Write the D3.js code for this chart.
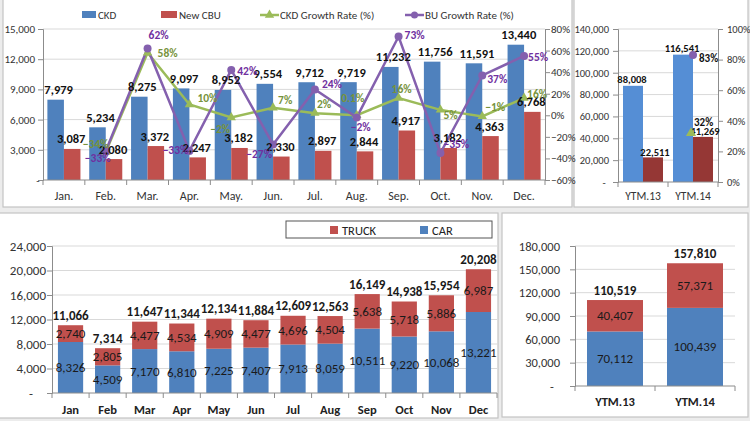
<!DOCTYPE html>
<html><head><meta charset="utf-8">
<script src="https://cdn.jsdelivr.net/npm/d3@7"></script>
<style>
html,body{margin:0;padding:0;background:#fff;}
svg{display:block;font-family:Carlito,Calibri,Lato,sans-serif;}
</style></head>
<body><svg id="c" width="750" height="421"></svg>
<script>
// ---------- DATA ----------
const months = ["Jan.","Feb.","Mar.","Apr.","May.","Jun.","Jul.","Aug.","Sep.","Oct.","Nov.","Dec."];
const ckd = [7979,5234,8275,9097,8952,9554,9712,9719,11232,11756,11591,13440];
const newCbu = [3087,2080,3372,2247,3182,2330,2897,2844,4917,3182,4363,6768];
const ckdGrowth = [null,-0.34,0.58,0.10,-0.02,0.07,0.02,0.001,0.16,0.05,-0.01,0.16];
const buGrowth = [null,-0.33,0.62,-0.33,0.42,-0.27,0.24,-0.02,0.73,-0.35,0.37,0.55];
const topLeftTicks = [0,3000,6000,9000,12000,15000];
const topRightPctTicks = [-0.6,-0.4,-0.2,0,0.2,0.4,0.6,0.8];

const ytdCats = ["YTM.13","YTM.14"];
const ytdCkd = [88008,116541];
const ytdCbu = [22511,41269];
const ytdCkdGrowth = [null,0.32];
const ytdBuGrowth = [null,0.83];
const ytdTicks = [0,20000,40000,60000,80000,100000,120000,140000];
const ytdPctTicks = [0,0.2,0.4,0.6,0.8,1.0];

const months2 = ["Jan","Feb","Mar","Apr","May","Jun","Jul","Aug","Sep","Oct","Nov","Dec"];
const car = [8326,4509,7170,6810,7225,7407,7913,8059,10511,9220,10068,13221];
const truck = [2740,2805,4477,4534,4909,4477,4696,4504,5638,5718,5886,6987];
const monthTicks2 = [0,4000,8000,12000,16000,20000,24000];

const ytdCar = [70112,100439];
const ytdTruck = [40407,57371];
const ytdTicks2 = [0,30000,60000,90000,120000,150000,180000];

// ---------- STYLE ----------
const BLUE="#4F81BD", RED="#C0504D", BLUE2="#558ED5", RED2="#953735";
const GREEN="#9BBB59", PURPLE="#8460AE", GREENTXT="#77933C", PURPLETXT="#7030A0";
const AXIS="#8c8c8c", GRID="#d9d9d9", TXT="#333";
const fmt = d3.format(",");
const pct = v => Math.abs(v) < 0.01 ? d3.format(".1%")(v) : d3.format(".0%")(v);

const svg = d3.select("#c");
svg.append("rect").attr("width",750).attr("height",421).attr("fill","#ececec");
// panels
[[3,-2,569,209],[574,-2,174,209],[-2,213,500,205],[502,213,246,204]].forEach(p=>{
  svg.append("rect").attr("x",p[0]).attr("y",p[1]).attr("width",p[2]).attr("height",p[3])
    .attr("fill","#fff").attr("stroke","#c4c4c4").attr("stroke-width",1.2);
});

function gridAndAxisLeft(g, y, ticks, x0, x1, fontSize, labelGap, dashDx){
  ticks.forEach(t=>{
    if(t!==ticks[0]) g.append("line").attr("x1",x0).attr("x2",x1).attr("y1",y(t)).attr("y2",y(t))
      .attr("stroke",GRID).attr("stroke-width",1);
  });
  const ax = g.append("g").attr("transform",`translate(${x0},0)`)
    .call(d3.axisLeft(y).tickValues(ticks).tickSize(5).tickFormat(d=>d===0?"":fmt(d)));
  ax.select(".domain").attr("stroke",AXIS);
  ax.selectAll(".tick line").attr("stroke",AXIS);
  ax.selectAll(".tick text").attr("fill",TXT).attr("font-size",fontSize).attr("x",-labelGap)
    .attr("font-family","Carlito,Calibri,Lato,sans-serif");
  g.append("text").attr("x",x0-labelGap+dashDx).attr("y",y(0)).attr("dominant-baseline","central")
    .attr("text-anchor","middle").attr("font-size",fontSize).attr("fill",TXT).text("-");
}
function bottomAxis(g, x, y0, x0, x1){
  g.append("line").attr("x1",x0).attr("x2",x1).attr("y1",y0).attr("y2",y0).attr("stroke",AXIS);
  const step = x.step();
  const n = x.domain().length;
  const start = x.range()[0];
  for(let i=0;i<=n;i++){
    const xx = start + i*step;
    g.append("line").attr("x1",xx).attr("x2",xx).attr("y1",y0).attr("y2",y0+5).attr("stroke",AXIS);
  }
}

// ================= PANEL 1 =================
{
  const g = svg.append("g");
  const x = d3.scaleBand().domain(months).range([43,545]).paddingInner(0.21).paddingOuter(0.105);
  const xs = d3.scaleBand().domain(["a","b"]).range([0,x.bandwidth()]);
  const y = d3.scaleLinear().domain([0,15000]).range([180,29]);
  const yr = d3.scaleLinear().domain([-0.6,0.8]).range([180,29]);
  gridAndAxisLeft(g,y,topLeftTicks,43,545,11,8,3);
  const ar = g.append("g").attr("transform","translate(545,0)")
    .call(d3.axisRight(yr).tickValues(topRightPctTicks).tickSize(5).tickFormat(d3.format(".0%")));
  ar.select(".domain").attr("stroke",AXIS);
  ar.selectAll(".tick line").attr("stroke",AXIS);
  ar.selectAll(".tick text").attr("fill",TXT).attr("font-size",11).attr("x",6)
    .attr("font-family","Carlito,Calibri,Lato,sans-serif");

  g.selectAll(".b1").data(ckd).join("rect").attr("x",(d,i)=>x(months[i])+xs("a")).attr("width",xs.bandwidth())
    .attr("y",d=>y(d)).attr("height",d=>y(0)-y(d)).attr("fill",BLUE);
  g.selectAll(".b2").data(newCbu).join("rect").attr("x",(d,i)=>x(months[i])+xs("b")).attr("width",xs.bandwidth())
    .attr("y",d=>y(d)).attr("height",d=>y(0)-y(d)).attr("fill",RED);
  bottomAxis(g,x,180,43,545);
  months.forEach(m=>g.append("text").attr("x",x(m)+x.bandwidth()/2).attr("y",196).attr("text-anchor","middle")
    .attr("dominant-baseline","central").attr("font-size",12).attr("fill",TXT).text(m));

  const cx = i => x(months[i]) + x.bandwidth()/2;
  const line = d3.line().defined(d=>d.v!==null).x(d=>cx(d.i)).y(d=>yr(d.v));
  const gpts = ckdGrowth.map((v,i)=>({v,i}));
  const ppts = buGrowth.map((v,i)=>({v,i}));
  g.append("path").attr("d",line(gpts)).attr("fill","none").attr("stroke",GREEN).attr("stroke-width",2.5);
  g.append("path").attr("d",line(ppts)).attr("fill","none").attr("stroke",PURPLE).attr("stroke-width",2.5);
  const tri = d3.symbol().type(d3.symbolTriangle).size(38);
  gpts.filter(d=>d.v!==null).forEach(d=>g.append("path").attr("d",tri())
    .attr("transform",`translate(${cx(d.i)},${yr(d.v)})`).attr("fill",GREEN));
  ppts.filter(d=>d.v!==null).forEach(d=>g.append("circle").attr("cx",cx(d.i)).attr("cy",yr(d.v)).attr("r",4).attr("fill",PURPLE));

  // bar labels
  ckd.forEach((d,i)=>g.append("text").attr("x",x(months[i])+xs("a")+xs.bandwidth()/2+3).attr("y",y(d)-10)
    .attr("text-anchor","middle").attr("dominant-baseline","central").attr("font-size",12.5).attr("font-weight","bold")
    .attr("fill","#111").text(fmt(d)));
  newCbu.forEach((d,i)=>g.append("text").attr("x",x(months[i])+xs("b")+xs.bandwidth()/2-1).attr("y",y(d)-10)
    .attr("text-anchor","middle").attr("dominant-baseline","central").attr("font-size",12.5).attr("font-weight","bold")
    .attr("fill","#111").text(fmt(d)));

  // growth labels placement (anchor, dx, dy)
  const gPlace = [null,["middle",-10,-8],["start",10,0],["start",8,-7],["middle",-11,12],["start",5,-8],["start",2,-9],
    ["middle",-4,-17],["middle",3,-9],["start",3,5],["start",3,-9],["start",3,-4]];
  const pPlace = [null,["middle",-8,7],["start",1,-13],["end",-1,-1],["start",6,1],["end",-1,10],["start",7,-5],
    ["middle",4,10],["start",6,-2],["start",3,-9],["start",5,4],["start",4,1]];
  gpts.filter(d=>d.v!==null).forEach(d=>{const p=gPlace[d.i];
    g.append("text").attr("x",cx(d.i)+p[1]).attr("y",yr(d.v)+p[2]).attr("text-anchor",p[0]).attr("dominant-baseline","central")
      .attr("font-size",11.5).attr("font-weight","bold").attr("fill",GREENTXT).text(pct(d.v));});
  ppts.filter(d=>d.v!==null).forEach(d=>{const p=pPlace[d.i];
    g.append("text").attr("x",cx(d.i)+p[1]).attr("y",yr(d.v)+p[2]).attr("text-anchor",p[0]).attr("dominant-baseline","central")
      .attr("font-size",11.5).attr("font-weight","bold").attr("fill",PURPLETXT).text(pct(d.v));});

  // legend
  const lg = g.append("g").attr("font-size",11).attr("fill",TXT);
  lg.append("rect").attr("x",82).attr("y",11).attr("width",14).attr("height",7).attr("fill",BLUE);
  lg.append("text").attr("x",98).attr("y",15).attr("dominant-baseline","central").text("CKD");
  lg.append("rect").attr("x",161).attr("y",11).attr("width",16).attr("height",7).attr("fill",RED);
  lg.append("text").attr("x",179).attr("y",15).attr("dominant-baseline","central").text("New CBU");
  lg.append("line").attr("x1",260).attr("x2",279).attr("y1",15).attr("y2",15).attr("stroke",GREEN).attr("stroke-width",2.5);
  lg.append("path").attr("d",tri()).attr("transform","translate(269.5,15)").attr("fill",GREEN);
  lg.append("text").attr("x",280).attr("y",15).attr("dominant-baseline","central").text("CKD Growth Rate (%)");
  lg.append("line").attr("x1",405).attr("x2",424).attr("y1",15).attr("y2",15).attr("stroke",PURPLE).attr("stroke-width",2.5);
  lg.append("circle").attr("cx",414.5).attr("cy",15).attr("r",3.5).attr("fill",PURPLE);
  lg.append("text").attr("x",425).attr("y",15).attr("dominant-baseline","central").text("BU Growth Rate (%)");
}

// ================= PANEL 2 =================
{
  const g = svg.append("g");
  const x = d3.scaleBand().domain(ytdCats).range([618,718]).paddingInner(0.2).paddingOuter(0.1);
  const xs = d3.scaleBand().domain(["a","b"]).range([0,x.bandwidth()]);
  const y = d3.scaleLinear().domain([0,140000]).range([182,29]);
  const yr = d3.scaleLinear().domain([0,1]).range([182,29]);
  gridAndAxisLeft(g,y,ytdTicks,618,718,10.5,9,-5);
  const ar = g.append("g").attr("transform","translate(718,0)")
    .call(d3.axisRight(yr).tickValues(ytdPctTicks).tickSize(5).tickFormat(d3.format(".0%")));
  ar.select(".domain").attr("stroke",AXIS);
  ar.selectAll(".tick line").attr("stroke",AXIS);
  ar.selectAll(".tick text").attr("fill",TXT).attr("font-size",10.5).attr("x",9)
    .attr("font-family","Carlito,Calibri,Lato,sans-serif");
  g.selectAll(".b1").data(ytdCkd).join("rect").attr("x",(d,i)=>x(ytdCats[i])+xs("a")).attr("width",xs.bandwidth())
    .attr("y",d=>y(d)).attr("height",d=>y(0)-y(d)).attr("fill",BLUE2);
  g.selectAll(".b2").data(ytdCbu).join("rect").attr("x",(d,i)=>x(ytdCats[i])+xs("b")).attr("width",xs.bandwidth())
    .attr("y",d=>y(d)).attr("height",d=>y(0)-y(d)).attr("fill",RED2);
  bottomAxis(g,x,182,618,718);
  ytdCats.forEach(c=>g.append("text").attr("x",x(c)+x.bandwidth()/2).attr("y",196).attr("text-anchor","middle")
    .attr("dominant-baseline","central").attr("font-size",11.5).attr("fill",TXT).text(c));
  ytdCkd.forEach((d,i)=>g.append("text").attr("x",x(ytdCats[i])+xs("a")+xs.bandwidth()/2-1).attr("y",y(d)-6)
    .attr("text-anchor","middle").attr("dominant-baseline","central").attr("font-size",10.5).attr("font-weight","bold")
    .attr("fill","#111").text(fmt(d)));
  ytdCbu.forEach((d,i)=>g.append("text").attr("x",x(ytdCats[i])+xs("b")+xs.bandwidth()/2+2).attr("y",y(d)-5)
    .attr("text-anchor","middle").attr("dominant-baseline","central").attr("font-size",10.5).attr("font-weight","bold")
    .attr("fill","#111").text(fmt(d)));
  const cx = i => x(ytdCats[i]) + x.bandwidth()/2;
  const tri = d3.symbol().type(d3.symbolTriangle).size(45);
  ytdCkdGrowth.forEach((v,i)=>{ if(v===null) return;
    g.append("path").attr("d",tri()).attr("transform",`translate(${cx(i)-2},${yr(v)})`).attr("fill",GREEN);
    g.append("text").attr("x",cx(i)+1).attr("y",yr(v)-11).attr("dominant-baseline","central").attr("font-size",11)
      .attr("font-weight","bold").attr("fill","#111").text(pct(v));});
  ytdBuGrowth.forEach((v,i)=>{ if(v===null) return;
    g.append("circle").attr("cx",cx(i)).attr("cy",yr(v)).attr("r",4).attr("fill",PURPLE);
    g.append("text").attr("x",cx(i)+6).attr("y",yr(v)+3).attr("dominant-baseline","central").attr("font-size",11)
      .attr("font-weight","bold").attr("fill","#111").text(pct(v));});
}

// ================= PANEL 3 =================
{
  const g = svg.append("g");
  const x = d3.scaleBand().domain(months2).range([52,497]).paddingInner(0.32).paddingOuter(0.16);
  const y = d3.scaleLinear().domain([0,24000]).range([393,246]);
  gridAndAxisLeft(g,y,monthTicks2,52,497,13,6,-15);
  g.selectAll(".c").data(car).join("rect").attr("x",(d,i)=>x(months2[i])).attr("width",x.bandwidth())
    .attr("y",d=>y(d)).attr("height",d=>y(0)-y(d)).attr("fill",BLUE);
  g.selectAll(".t").data(truck).join("rect").attr("x",(d,i)=>x(months2[i])).attr("width",x.bandwidth())
    .attr("y",(d,i)=>y(car[i]+d)).attr("height",(d,i)=>y(car[i])-y(car[i]+d)).attr("fill",RED);
  bottomAxis(g,x,393,52,497);
  months2.forEach(m=>g.append("text").attr("x",x(m)+x.bandwidth()/2).attr("y",409).attr("text-anchor","middle")
    .attr("dominant-baseline","central").attr("font-size",12.5).attr("font-weight","bold").attr("fill","#222").text(m));
  car.forEach((d,i)=>g.append("text").attr("x",x(months2[i])+x.bandwidth()/2).attr("y",y(d/2))
    .attr("text-anchor","middle").attr("dominant-baseline","central").attr("font-size",13).attr("fill","#1a1a1a").text(fmt(d)));
  truck.forEach((d,i)=>g.append("text").attr("x",x(months2[i])+x.bandwidth()/2).attr("y",y(car[i]+d/2))
    .attr("text-anchor","middle").attr("dominant-baseline","central").attr("font-size",13).attr("fill","#1a1a1a").text(fmt(d)));
  car.forEach((d,i)=>g.append("text").attr("x",x(months2[i])+x.bandwidth()/2).attr("y",y(d+truck[i])-10)
    .attr("text-anchor","middle").attr("dominant-baseline","central").attr("font-size",13).attr("font-weight","bold")
    .attr("fill","#1a1a1a").text(fmt(d+truck[i])));
  // legend
  g.append("rect").attr("x",286).attr("y",221).attr("width",206).attr("height",17).attr("fill","#fff").attr("stroke","#555");
  g.append("rect").attr("x",330).attr("y",226).attr("width",8).attr("height",8).attr("fill",RED);
  g.append("text").attr("x",342).attr("y",230).attr("dominant-baseline","central").attr("font-size",12.5).attr("fill","#222").text("TRUCK");
  g.append("rect").attr("x",420).attr("y",226).attr("width",8).attr("height",8).attr("fill",BLUE);
  g.append("text").attr("x",432).attr("y",230).attr("dominant-baseline","central").attr("font-size",12.5).attr("fill","#222").text("CAR");
}

// ================= PANEL 4 =================
{
  const g = svg.append("g");
  const x = d3.scaleBand().domain(ytdCats).range([575,735]).paddingInner(0.3).paddingOuter(0.15);
  const y = d3.scaleLinear().domain([0,180000]).range([386,246]);
  gridAndAxisLeft(g,y,ytdTicks2,575,735,12.5,15,-8);
  g.selectAll(".c").data(ytdCar).join("rect").attr("x",(d,i)=>x(ytdCats[i])).attr("width",x.bandwidth())
    .attr("y",d=>y(d)).attr("height",d=>y(0)-y(d)).attr("fill",BLUE);
  g.selectAll(".t").data(ytdTruck).join("rect").attr("x",(d,i)=>x(ytdCats[i])).attr("width",x.bandwidth())
    .attr("y",(d,i)=>y(ytdCar[i]+d)).attr("height",(d,i)=>y(ytdCar[i])-y(ytdCar[i]+d)).attr("fill",RED);
  bottomAxis(g,x,386,575,735);
  ytdCats.forEach(c=>g.append("text").attr("x",x(c)+x.bandwidth()/2).attr("y",401.5).attr("text-anchor","middle")
    .attr("dominant-baseline","central").attr("font-size",12.5).attr("font-weight","bold").attr("fill","#222").text(c));
  ytdCar.forEach((d,i)=>g.append("text").attr("x",x(ytdCats[i])+x.bandwidth()/2).attr("y",y(d/2))
    .attr("text-anchor","middle").attr("dominant-baseline","central").attr("font-size",13).attr("fill","#1a1a1a").text(fmt(d)));
  ytdTruck.forEach((d,i)=>g.append("text").attr("x",x(ytdCats[i])+x.bandwidth()/2).attr("y",y(ytdCar[i]+d/2))
    .attr("text-anchor","middle").attr("dominant-baseline","central").attr("font-size",13).attr("fill","#1a1a1a").text(fmt(d)));
  ytdCar.forEach((d,i)=>g.append("text").attr("x",x(ytdCats[i])+x.bandwidth()/2).attr("y",y(d+ytdTruck[i])-10)
    .attr("text-anchor","middle").attr("dominant-baseline","central").attr("font-size",13).attr("font-weight","bold")
    .attr("fill","#1a1a1a").text(fmt(d+ytdTruck[i])));
}
</script></body></html>
